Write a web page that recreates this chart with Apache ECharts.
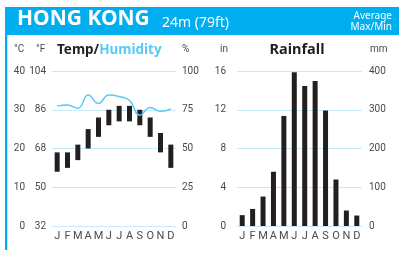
<!DOCTYPE html>
<html>
<head>
<meta charset="utf-8">
<script src="https://cdn.jsdelivr.net/npm/echarts@6/dist/echarts.min.js"></script>
<style>
  html, body { margin: 0; padding: 0; background: #fff; }
  #main { width: 399px; height: 253px; }
</style>
</head>
<body>
<div id="main"></div>
<script>
// climate data
var months = ['J', 'F', 'M', 'A', 'M', 'J', 'J', 'A', 'S', 'O', 'N', 'D'];
var tempMax = [19, 19, 21, 25, 28, 30, 31, 31, 30, 28, 24, 21];   // °C
var tempMin = [14, 15, 17, 20, 23, 26, 27, 27, 26, 23, 19, 15];   // °C
var humidity = [77.5, 78, 76, 84.5, 79, 84.5, 83.5, 81, 71.5, 76.5, 74, 75.5]; // %
var rainfall = [28, 44, 76, 140, 284, 397, 361, 374, 298, 120, 40, 27];  // mm

// tick labels
var tempCLabels = ['0', '10', '20', '30', '40'];
var tempFLabels = ['32', '50', '68', '86', '104'];
var humLabels = ['0', '25', '50', '75', '100'];
var rainInLabels = ['0', '4', '8', '12', '16'];
var rainMmLabels = ['0', '100', '200', '300', '400'];

var blue = '#00aeef';
var lightBlue = '#5bc8f5';
var gridCol = '#c4e9f8';
var barCol = '#231f20';
var txtCol = '#4a4a4a';
var font = 'Roboto';

function tickFmt(labels, step) {
    return function (v) { return labels[Math.round(v / step)]; };
}

var myChart = echarts.init(document.getElementById('main'), null, {renderer: 'canvas'});

var xBase = {
    type: 'category',
    data: months,
    axisLine: {show: false},
    axisTick: {show: false},
    axisLabel: {color: txtCol, fontSize: 11, margin: 5, fontFamily: font, interval: 0}
};

function yAx(grid, pos, max, step, labels, margin, split) {
    return {
        type: 'value',
        gridIndex: grid,
        position: pos,
        min: 0,
        max: max,
        interval: step,
        axisLine: {show: false},
        axisTick: {show: false},
        axisLabel: {
            color: txtCol, fontSize: 10, margin: margin, fontFamily: font,
            formatter: tickFmt(labels, step)
        },
        splitLine: {show: split, lineStyle: {color: gridCol, width: 1}}
    };
}

option = {
    animation: false,
    backgroundColor: '#fff',
    grid: [
        {left: 52, top: 71, width: 124, height: 155},
        {left: 237, top: 71, width: 125, height: 155}
    ],
    xAxis: [
        Object.assign({gridIndex: 0}, xBase),
        Object.assign({gridIndex: 1}, xBase)
    ],
    yAxis: [
        yAx(0, 'left', 40, 10, tempCLabels, 27, true),
        yAx(0, 'left', 40, 10, tempFLabels, 6, false),
        yAx(0, 'right', 100, 25, humLabels, 6, false),
        yAx(1, 'left', 16, 4, rainInLabels, 11, true),
        yAx(1, 'right', 400, 100, rainMmLabels, 7, false)
    ],
    series: [{
        type: 'bar',
        stack: 'temp',
        barWidth: 5,
        silent: true,
        itemStyle: {color: 'transparent'},
        data: tempMin
    }, {
        type: 'bar',
        stack: 'temp',
        barWidth: 5,
        itemStyle: {color: barCol},
        data: tempMax.map(function (v, i) { return v - tempMin[i]; })
    }, {
        type: 'line',
        yAxisIndex: 2,
        smooth: 0.5,
        symbol: 'none',
        z: 5,
        lineStyle: {color: lightBlue, width: 1.5},
        data: humidity
    }, {
        type: 'bar',
        xAxisIndex: 1,
        yAxisIndex: 4,
        barWidth: 5,
        itemStyle: {color: barCol},
        data: rainfall
    }],
    graphic: [
        // header band and left border
        {type: 'rect', shape: {x: 5, y: 7, width: 394, height: 28}, style: {fill: blue}, silent: true},
        {type: 'rect', shape: {x: 5, y: 7, width: 2.3, height: 243}, style: {fill: blue}, silent: true},
        {type: 'text', x: 17, y: 30, style: {text: 'HONG KONG', fill: '#fff', font: 'bold 21px "Noto Sans"', textVerticalAlign: 'bottom'}},
        {type: 'text', x: 162, y: 30, style: {text: '24m (79ft)', fill: '#fff', font: '14px "Noto Sans"', textVerticalAlign: 'bottom'}},
        {type: 'text', x: 392, y: 21, style: {text: 'Average', fill: '#fff', font: '10px "Noto Sans"', textAlign: 'right', textVerticalAlign: 'bottom'}},
        {type: 'text', x: 392, y: 32, style: {text: 'Max/Min', fill: '#fff', font: '10px "Noto Sans"', textAlign: 'right', textVerticalAlign: 'bottom'}},
        // panel titles
        {type: 'text', x: 57, y: 57, style: {
            text: '{a|Temp/}{b|Humidity}',
            textVerticalAlign: 'bottom',
            rich: {
                a: {fill: barCol, fontFamily: 'Noto Sans', fontWeight: 'bold', fontSize: 13.5},
                b: {fill: lightBlue, fontFamily: 'Noto Sans', fontWeight: 'bold', fontSize: 13.5}
            }
        }},
        {type: 'text', x: 297, y: 57, style: {text: 'Rainfall', fill: barCol, font: 'bold 14.5px "Noto Sans"', textAlign: 'center', textVerticalAlign: 'bottom'}},
        // unit captions
        {type: 'text', x: 14, y: 54, style: {text: '°C', fill: txtCol, font: '10px ' + font, textVerticalAlign: 'bottom'}},
        {type: 'text', x: 36, y: 54, style: {text: '°F', fill: txtCol, font: '10px ' + font, textVerticalAlign: 'bottom'}},
        {type: 'text', x: 182, y: 54, style: {text: '%', fill: txtCol, font: '10px ' + font, textVerticalAlign: 'bottom'}},
        {type: 'text', x: 220, y: 54, style: {text: 'in', fill: txtCol, font: '10px ' + font, textVerticalAlign: 'bottom'}},
        {type: 'text', x: 370, y: 54, style: {text: 'mm', fill: txtCol, font: '10px ' + font, textVerticalAlign: 'bottom'}}
    ]
};

myChart.setOption(option);
</script>
</body>
</html>
